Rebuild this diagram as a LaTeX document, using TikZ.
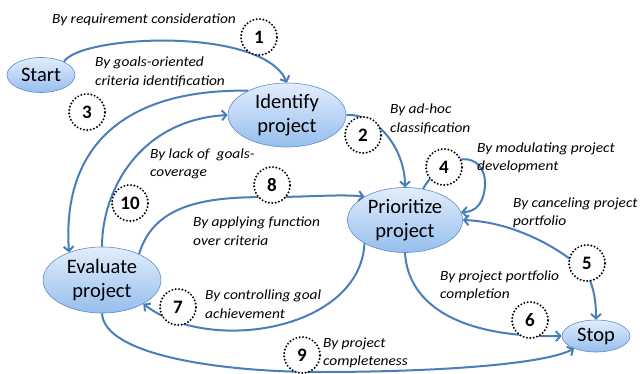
\documentclass[tikz,border=0pt]{standalone}
\usepackage{fontspec}
\setmainfont{Carlito}
\newfontfamily\lblfont{Carlito}[FakeStretch=1.1]
\usetikzlibrary{shapes.geometric, arrows.meta, positioning}
\definecolor{flowblue}{RGB}{74,126,187}
\definecolor{phasetop}{RGB}{226,237,252}
\definecolor{phasebottom}{RGB}{150,190,238}
\definecolor{phaseedge}{RGB}{96,140,200}
\tikzset{
  %% ---- boxes ----
  phase/.style = {ellipse, draw=phaseedge, line width=0.6pt,
                  top color=phasetop, bottom color=phasebottom,
                  inner sep=0pt, align=center,
                  font=\fontsize{20.5}{24}\selectfont},
  tag/.style   = {circle, draw=black, line width=2.2pt,
                  dash pattern=on 0pt off 3.4pt, line cap=round,
                  fill=white, minimum size=36pt, inner sep=0pt,
                  font=\fontsize{19}{19}\selectfont\bfseries},
  lbl/.style   = {anchor=west, align=left, inner sep=0pt,
                  font=\lblfont\fontsize{14}{18.5}\selectfont\itshape},
  %% ---- arrows ----
  arrow/.style = {-{Straight Barb[length=4.5pt,width=10pt]},
                  line width=2pt, color=flowblue},
}
\begin{document}
\begin{tikzpicture}[x=1pt, y=-1pt]
  \useasboundingbox (0,0) rectangle (640,374);

  %% Phases
  \node[phase, minimum width=68pt, minimum height=35pt]  (start)      at (41,75)   {Start};
  \node[phase, minimum width=118pt, minimum height=64pt] (identify)   at (287,115) {Identify\\project};
  \node[phase, minimum width=115pt, minimum height=65pt] (prioritize) at (405,220) {Prioritize\\project};
  \node[phase, minimum width=118pt, minimum height=66pt] (evaluate)   at (102,280) {Evaluate\\project};
  \node[phase, minimum width=68pt, minimum height=32pt]  (stop)       at (596,336) {Stop};

  %% Transitions
  \draw[arrow] (start.30) .. controls (80,35) and (262,26) .. (identify.north);
  \draw[arrow] (identify.east) .. controls (378,113) and (405,150) .. (prioritize.north);
  \draw[arrow] (identify.148) .. controls (120,89) and (62,150) .. (evaluate.140);
  \draw[arrow] (prioritize.60) .. controls (446,150) and (486,150) .. (485,185)
                               .. controls (484,203) and (476,212) .. (prioritize.8);
  \draw[arrow, {Straight Barb[length=4.5pt,width=10pt]}-{Straight Barb[length=4.5pt,width=10pt]}]
    (prioritize.east) .. controls (515,222) and (565,250) .. (588,275)
                      .. controls (594,290) and (596,300) .. (stop.north);
  \draw[arrow] (prioritize.south) .. controls (408,305) and (460,338) .. (stop.west);
  \draw[arrow] (prioritize.210) .. controls (360,330) and (210,355) .. (evaluate.-30);
  \draw[arrow] (evaluate.35) .. controls (155,200) and (215,197) .. (272,197)
                             .. controls (310,197) and (340,194) .. (prioritize.150);
  \draw[arrow] (evaluate.south) .. controls (104,355) and (220,372) .. (320,372)
                                .. controls (420,372) and (540,366) .. (stop.210);
  \draw[arrow] (evaluate.north) .. controls (102,190) and (140,120) .. (identify.west);

  %% Numbers
  \node[tag] (n1)  at (259,37)  {1};
  \node[tag] (n2)  at (363,135) {2};
  \node[tag] (n3)  at (87,112)  {3};
  \node[tag] (n4)  at (444,167) {4};
  \node[tag] (n5)  at (587,263) {5};
  \node[tag] (n6)  at (530,320) {6};
  \node[tag] (n7)  at (178,307) {7};
  \node[tag] (n8)  at (272,185) {8};
  \node[tag] (n9)  at (302,355) {9};
  \node[tag] (n10) at (130,203) {10};

  %% Labels
  \node[lbl] (l1)  at (52,20)    {By requirement consideration};
  \node[lbl] (l2)  at (390,119)  {By ad-hoc\\classification};
  \node[lbl] (l3)  at (95,72)    {By goals-oriented\\criteria identification};
  \node[lbl] (l4)  at (477,158)  {By modulating project\\development};
  \node[lbl] (l5)  at (513,213)  {By canceling project\\portfolio};
  \node[lbl] (l6)  at (440,286)  {By project portfolio\\completion};
  \node[lbl] (l7)  at (205,304)  {By controlling goal\\achievement};
  \node[lbl] (l8)  at (193,231)  {By applying function\\over criteria};
  \node[lbl] (l9)  at (323,353)  {By project\\completeness};
  \node[lbl] (l10) at (150,164)  {By lack of \ goals-\\coverage};

\end{tikzpicture}
\end{document}
